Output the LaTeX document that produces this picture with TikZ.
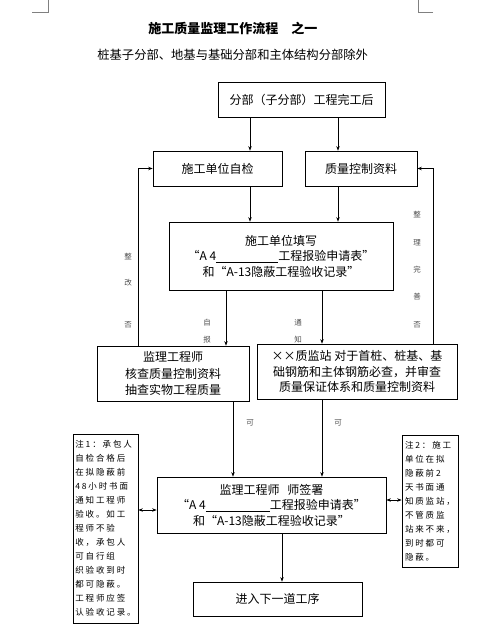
\documentclass[tikz,border=0pt]{standalone}
\usepackage{fontspec}
\setmainfont{Noto Sans CJK SC}
\usetikzlibrary{arrows.meta}
\newcommand{\qleft}{{\addfontfeatures{RawFeature=+fwid}“}}
\newcommand{\qright}{{\addfontfeatures{RawFeature=+fwid}”}}

\begin{document}
\begin{tikzpicture}[x=1pt, y=-1pt, >={Stealth[length=4.5pt,width=3.5pt]}, line width=0.7pt,
    box/.style={draw, align=center, inner sep=1pt, font=\fontsize{12}{15.5}\selectfont},
    note/.style={draw, align=left, inner sep=2pt, font=\fontsize{8.5}{14}\selectfont\addfontfeatures{LetterSpace=22}},
    tag/.style={inner sep=0pt, text=black!70, font=\fontsize{7.5}{8}\selectfont}]
    \useasboundingbox (0,0) rectangle (492,627);

    % 页边角标
    \draw[gray, line width=0.5pt] (32,12) -- (48,12) -- (48,0);
    \draw[gray, line width=0.5pt] (433,12) -- (418,12) -- (418,0);

    % 标题
    \node[anchor=west, inner sep=0pt, font=\bfseries\fontsize{13}{16}\selectfont] (biaoti) at (148,28) {施工质量监理工作流程\hspace{13pt}之一};
    \node[anchor=west, inner sep=0pt, font=\fontsize{12.3}{15}\selectfont] (fubiaoti) at (97,55) {桩基子分部、地基与基础分部和主体结构分部除外};

    % 方框
    \node[box, minimum width=167, minimum height=35] (fenbu) at (301.5,99.5) {分部（子分部）工程完工后};
    \node[box, minimum width=129, minimum height=35] (zijian) at (217.5,168.5) {施工单位自检};
    \node[box, minimum width=112, minimum height=35] (ziliao) at (361,168.5) {质量控制资料};
    \node[box, minimum width=224, minimum height=68] (tianxie) at (281,256)
        {施工单位填写\\\qleft A 4\rule[-2pt]{62pt}{0.5pt}工程报验申请表\qright\\和\qleft A-13隐蔽工程验收记录\qright};
    \node[box, minimum width=152, minimum height=55, font=\fontsize{12}{16.5}\selectfont] (hecha) at (173,373.5)
        {监理工程师\\核查质量控制资料\\抽查实物工程质量};
    \node[box, minimum width=200, minimum height=55, font=\fontsize{12}{15.5}\selectfont] (zhijian) at (357,371.5)
        {××质监站 对于首桩、桩基、基\\础钢筋和主体钢筋必查，并审查\\质量保证体系和质量控制资料};
    \node[box, minimum width=229, minimum height=56] (qianshu) at (271.5,505)
        {监理工程师\hspace{8pt}师签署\\\qleft A 4\rule[-2pt]{64pt}{0.5pt}工程报验申请表\qright\\和\qleft A-13隐蔽工程验收记录\qright};
    \node[box, minimum width=169, minimum height=34] (xiayi) at (277.5,599) {进入下一道工序};

    % 注释
    \node[note, minimum width=65, minimum height=189] (zhu1) at (105.5,528.5)
        {注1：承包人\\自检合格后\\在拟隐蔽前\\48小时书面\\通知工程师\\验收。如工\\程师不验\\收，承包人\\可自行组\\织验收到时\\都可隐蔽。\\工程师应签\\认验收记录。};
    \node[note, minimum width=56, minimum height=132] (zhu2) at (430,501)
        {注2：施工\\单位在拟\\隐蔽前2\\天书面通\\知质监站，\\不管质监\\站来不来，\\到时都可\\隐蔽。};

    % 竖线位置
    \coordinate (xa) at (250,0);
    \coordinate (xb) at (338,0);
    \coordinate (xc) at (226,0);
    \coordinate (xd) at (322,0);
    \coordinate (xe) at (233,0);
    \coordinate (xf) at (282,0);
    \coordinate (xl) at (138,0);
    \coordinate (xr) at (433,0);
    \coordinate (yl) at (0,510);
    \coordinate (yr) at (0,500);

    % 箭头
    \draw[->] (fenbu.south -| xa) -- (zijian.north -| xa);
    \draw[->] (fenbu.south -| xb) -- (ziliao.north -| xb);
    \draw[->] (zijian.south -| xa) -- (tianxie.north -| xa);
    \draw[->] (ziliao.south -| xb) -- (tianxie.north -| xb);
    \draw[->] (tianxie.south -| xc) -- (hecha.north -| xc);
    \draw[->] (tianxie.south -| xd) -- (zhijian.north -| xd);
    \draw[->] (hecha.north -| xl) |- (zijian.west);
    \draw[->] (zhijian.north -| xr) |- (ziliao.east);
    \draw[->] (hecha.south -| xe) -- (qianshu.north -| xe);
    \draw[->] (zhijian.south -| xd) -- (qianshu.north -| xd);
    \draw[->] (qianshu.south -| xf) -- (xiayi.north -| xf);
    \draw[<->] (zhu1.east |- yl) -- (qianshu.west |- yl);
    \draw[<->] (qianshu.east |- yr) -- (zhu2.west |- yr);

    % 箭头旁文字
    \node[tag] (zg1) at (128,257) {整};
    \node[tag] (zg2) at (128,283) {改};
    \node[tag] (fou1) at (128,325) {否};
    \node[tag] (zb1) at (207,323) {自};
    \node[tag] (zb2) at (207,340) {报};
    \node[tag] (tz1) at (298,323) {通};
    \node[tag] (tz2) at (298,340) {知};
    \node[tag] (zl1) at (417,215) {整};
    \node[tag] (zl2) at (417,243) {理};
    \node[tag] (zl3) at (417,270) {完};
    \node[tag] (zl4) at (417,297) {善};
    \node[tag] (fou2) at (417,325) {否};
    \node[tag] (ke1) at (250,423) {可};
    \node[tag] (ke2) at (338,423) {可};
\end{tikzpicture}
\end{document}
